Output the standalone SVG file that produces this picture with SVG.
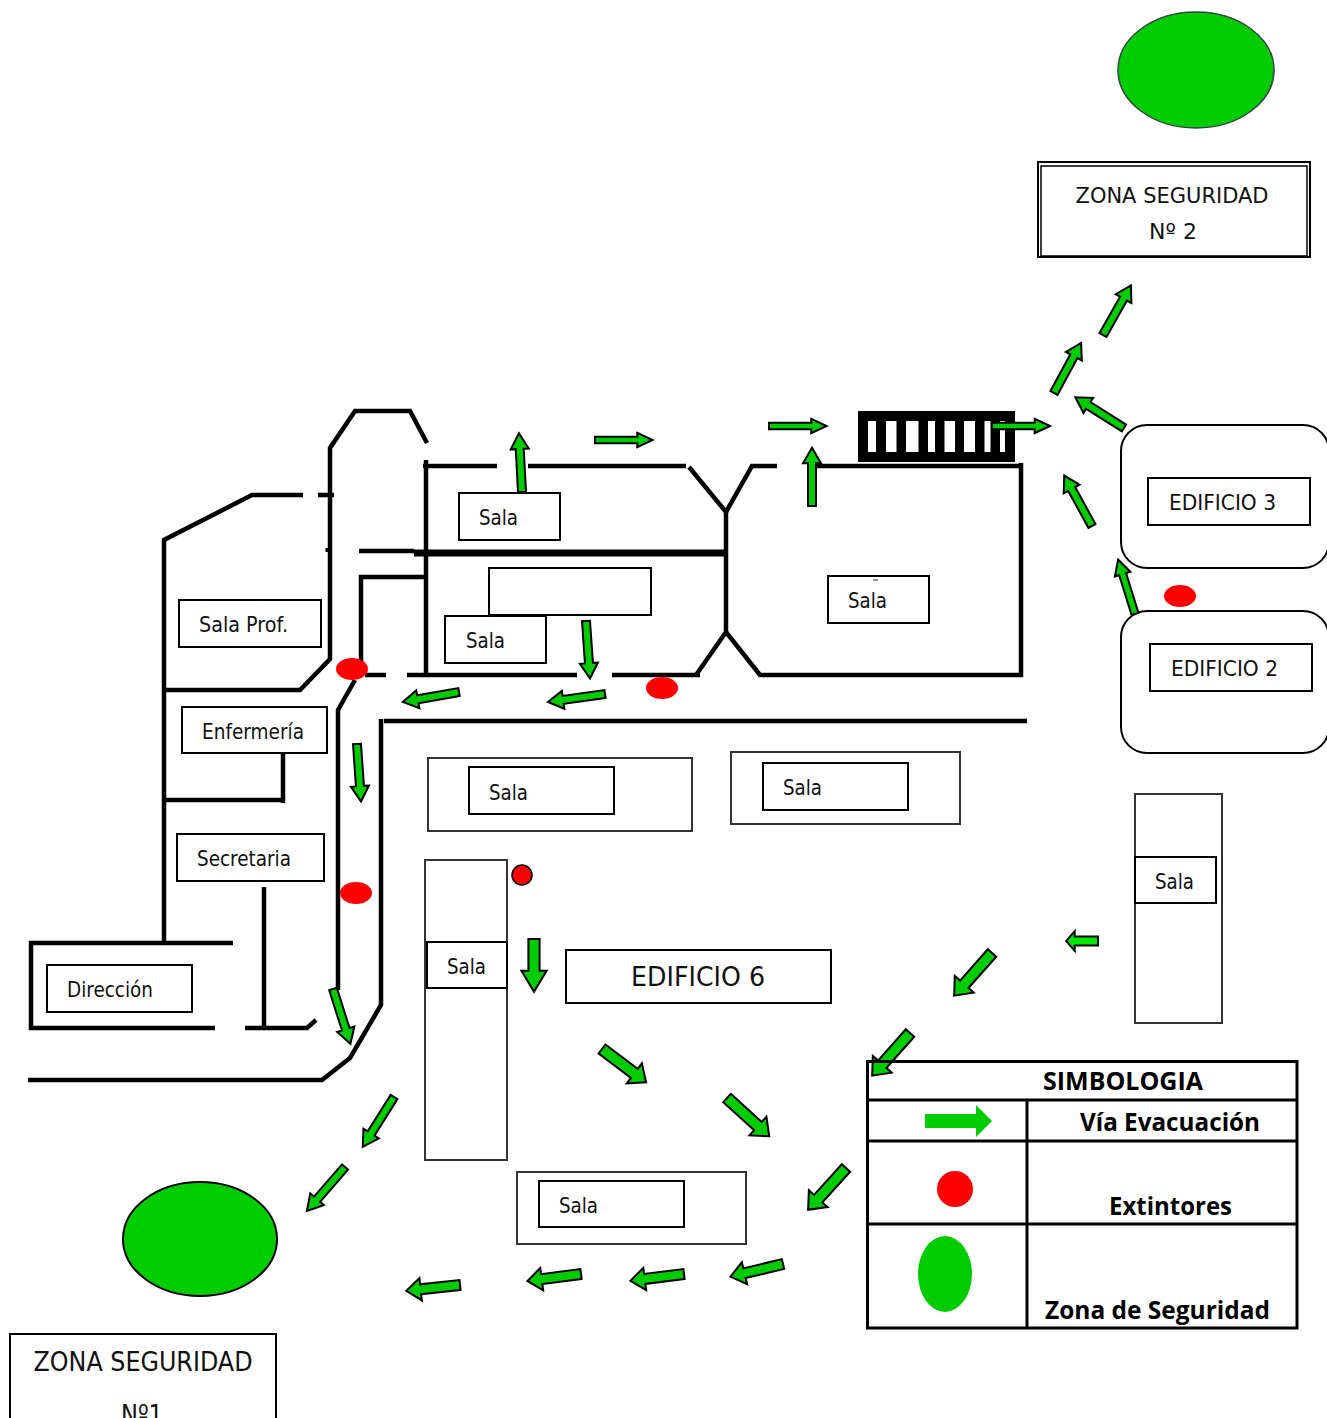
<svg xmlns="http://www.w3.org/2000/svg" width="1327" height="1418" viewBox="0 0 1327 1418">
<style>
text{font-family:"DejaVu Sans","Liberation Sans",sans-serif;fill:#111;font-size:22px}
text.big{font-size:26px}
.w{fill:none;stroke:#000;stroke-width:4.500}
.b{fill:#fff;stroke:#000;stroke-width:2}
.o{fill:#fff;stroke:#333;stroke-width:2}
.r{fill:#f00}
.g{fill:#00cc00}
.gs{fill:#00cc00;stroke:#000;stroke-width:2}
.a{fill:#00cc00;stroke:#000;stroke-width:2}
text.l{font-family:"Open Sans","Liberation Sans",sans-serif;font-weight:700;font-size:25px;fill:#000}
.tl{stroke:#000;stroke-width:3;fill:none}
</style>
<defs>
<polygon id="ar" points="0,-4 44,-4 44,-9 60,0 44,9 44,4 0,4" vector-effect="non-scaling-stroke"/>
<polygon id="ar2" points="0,-4 36,-4 36,-9 60,0 36,9 36,4 0,4" vector-effect="non-scaling-stroke"/>
</defs>
<rect width="1327" height="1418" fill="#fff"/>
<g id="walls" class="w">
<path d="M164 943V540L252 495H303M318 495H334"/>
<path d="M164 690H300L330 659V448L355 411H410L427 443"/>
<path d="M327 548V552" style="stroke-width:3"/>
<path d="M426 460V675"/>
<path d="M423 466H497M528 466H686"/>
<path d="M689 467L726 512L752 466H777M812 466H1021M1021 463V677M1023 675H760L726 632L696 675"/>
<path d="M726 512V632"/>
<path d="M359 551H414"/>
<path d="M414 553H726" style="stroke-width:7"/>
<path d="M361 675V577H426"/>
<path d="M365 675H386M407 675H577M612 675H700"/>
<path d="M355 680L338 710V990"/>
<path d="M1027 721H384M381 719V1005L350 1058L322 1080H28"/>
<path d="M233 943H31V1028H215M245 1028H307L316 1020"/>
<path d="M164 800H285M283 753V803"/>
<path d="M264 887V1028"/>
</g>
<g id="crossing">
<rect x="858" y="411" width="157" height="51" fill="#000"/>
<g fill="#fff"><rect x="868" y="421" width="8" height="31"/><rect x="886" y="421" width="10.500" height="31"/><rect x="906" y="421" width="12.500" height="31"/><rect x="928" y="421" width="7" height="31"/><rect x="944.500" y="421" width="10.500" height="31"/><rect x="964" y="421" width="11" height="31"/><rect x="984.500" y="421" width="6" height="31"/><rect x="1000" y="421" width="5" height="31"/></g>
</g>
<g id="zona2-ellipse"><ellipse cx="1196" cy="70" rx="78" ry="58" fill="#00cc00" stroke="#344" stroke-width="1.500"/></g>
<g id="zona2"><rect x="1038" y="162" width="272" height="95" fill="#fff" stroke="#000" stroke-width="2"/><rect x="1041" y="166" width="266" height="90" fill="none" stroke="#000" stroke-width="1.500"/>
<text x="1172" y="203" text-anchor="middle" textLength="193" lengthAdjust="spacingAndGlyphs">ZONA SEGURIDAD</text><text x="1173" y="239" text-anchor="middle">Nº 2</text></g>
<g id="edificio3"><rect class="b" x="1121" y="425" width="208" height="143" rx="26"/><rect class="b" x="1148" y="478" width="162" height="47"/><text x="1169" y="510" textLength="107" lengthAdjust="spacingAndGlyphs">EDIFICIO 3</text></g>
<g id="edificio2"><rect class="b" x="1121" y="611" width="208" height="142" rx="26"/><rect class="b" x="1150" y="644" width="162" height="47"/><text x="1171" y="676" textLength="107" lengthAdjust="spacingAndGlyphs">EDIFICIO 2</text></g>
<g id="sala-a"><rect class="b" x="459" y="493" width="101" height="47"/><text x="479" y="525" textLength="39" lengthAdjust="spacingAndGlyphs">Sala</text></g>
<g id="caja"><rect class="b" x="489" y="568" width="162" height="47"/></g>
<g id="sala-b"><rect class="b" x="445" y="616" width="101" height="47"/><text x="466" y="648" textLength="39" lengthAdjust="spacingAndGlyphs">Sala</text></g>
<g id="sala-c"><rect class="b" x="828" y="576" width="101" height="47"/><path d="M873 580H878" stroke="#333" stroke-width="1"/><text x="848" y="608" textLength="39" lengthAdjust="spacingAndGlyphs">Sala</text></g>
<g id="sala-prof"><rect class="b" x="179" y="600" width="142" height="47"/><text x="199" y="632" textLength="89" lengthAdjust="spacingAndGlyphs">Sala Prof.</text></g>
<g id="enfermeria"><rect class="b" x="182" y="707" width="145" height="46"/><text x="202" y="739" textLength="102" lengthAdjust="spacingAndGlyphs">Enfermería</text></g>
<g id="secretaria"><rect class="b" x="177" y="834" width="147" height="47"/><text x="197" y="866" textLength="94" lengthAdjust="spacingAndGlyphs">Secretaria</text></g>
<g id="direccion"><rect class="b" x="47" y="965" width="145" height="47"/><text x="67" y="997" textLength="86" lengthAdjust="spacingAndGlyphs">Dirección</text></g>
<g id="sala-d"><rect class="o" x="428" y="758" width="264" height="73"/><rect class="b" x="469" y="767" width="145" height="47"/><text x="489" y="800" textLength="39" lengthAdjust="spacingAndGlyphs">Sala</text></g>
<g id="sala-e"><rect class="o" x="731" y="752" width="229" height="72"/><rect class="b" x="763" y="763" width="145" height="47"/><text x="783" y="795" textLength="39" lengthAdjust="spacingAndGlyphs">Sala</text></g>
<g id="sala-f"><rect class="o" x="425" y="860" width="82" height="300"/><rect class="b" x="427" y="942" width="80" height="46"/><text x="447" y="974" textLength="39" lengthAdjust="spacingAndGlyphs">Sala</text></g>
<g id="sala-g"><rect class="o" x="517" y="1172" width="229" height="72"/><rect class="b" x="539" y="1181" width="145" height="46"/><text x="559" y="1213" textLength="39" lengthAdjust="spacingAndGlyphs">Sala</text></g>
<g id="sala-h"><rect class="o" x="1135" y="794" width="87" height="229"/><rect class="b" x="1135" y="857" width="81" height="46"/><text x="1155" y="889" textLength="39" lengthAdjust="spacingAndGlyphs">Sala</text></g>
<g id="edificio6"><rect class="b" x="566" y="950" width="265" height="53"/><text class="big" x="631" y="986" textLength="134" lengthAdjust="spacingAndGlyphs">EDIFICIO 6</text></g>
<g id="extintores">
<ellipse class="r" cx="352" cy="669" rx="16" ry="11"/>
<ellipse class="r" cx="662" cy="688" rx="16" ry="11"/>
<ellipse class="r" cx="356" cy="893" rx="16" ry="11"/>
<ellipse class="r" cx="1180" cy="596" rx="16" ry="11"/>
<circle cx="522" cy="875" r="10" fill="#f00" stroke="#000" stroke-width="1.500"/>
</g>
<g id="zona1-ellipse"><ellipse class="gs" cx="200" cy="1239" rx="77" ry="57"/></g>
<g id="zona1"><rect class="b" x="10" y="1334" width="266" height="100"/><text class="big" x="143" y="1371" text-anchor="middle" textLength="219" lengthAdjust="spacingAndGlyphs">ZONA SEGURIDAD</text><text class="big" x="142" y="1424" text-anchor="middle" textLength="42" lengthAdjust="spacingAndGlyphs">Nº1</text></g>
<g id="connectors" class="a">
<use href="#ar" transform="translate(1103,335) rotate(-60.600) scale(.95,1)"/>
<use href="#ar" transform="translate(1054,393) rotate(-61.600) scale(.95,1)"/>
<use href="#ar" transform="translate(1124,428) rotate(-147.700) scale(.96,1)"/>
<use href="#ar" transform="translate(1092,526) rotate(-118.800) scale(.96,1)"/>
<use href="#ar" transform="translate(992,426) scale(.97,.8)"/>
<use href="#ar" transform="translate(1135,614) rotate(-107.200) scale(.95,.9)"/>
<use href="#ar" transform="translate(522,492) rotate(-93) scale(.98,1)"/>
<use href="#ar" transform="translate(595,440) scale(.96,.8)"/>
<use href="#ar" transform="translate(769,426) scale(.96,.8)"/>
<use href="#ar" transform="translate(812,506) rotate(-90) scale(.97,1)"/>
<use href="#ar" transform="translate(586,621) rotate(86) scale(.96,1)"/>
<use href="#ar" transform="translate(605,694) rotate(172) scale(.96,1)"/>
<use href="#ar" transform="translate(459,692) rotate(170) scale(.95,1)"/>
<use href="#ar" transform="translate(357,744) rotate(86) scale(.96,1)"/>
<use href="#ar" transform="translate(333,989) rotate(72.400) scale(.96,1)"/>
<use href="#ar" transform="translate(394,1097) rotate(122.100) scale(.98,1)"/>
<use href="#ar" transform="translate(345,1167) rotate(130.900) scale(.97,1)"/>
<use href="#ar" transform="translate(460,1285) rotate(173.800) scale(.9,1.250)"/>
<use href="#ar" transform="translate(581,1274) rotate(172.600) scale(.9,1.250)"/>
<use href="#ar" transform="translate(684,1274) rotate(172.800) scale(.9,1.250)"/>
<use href="#ar" transform="translate(783,1264) rotate(166.500) scale(.9,1.250)"/>
<use href="#ar" transform="translate(846,1168) rotate(132.200) scale(.94,1.400)"/>
<use href="#ar" transform="translate(727,1098) rotate(42.200) scale(.95,1.400)"/>
<use href="#ar" transform="translate(602,1049) rotate(37) scale(.92,1.400)"/>
<use href="#ar2" transform="translate(534,939) rotate(90) scale(.88,1.400)"/>
<use href="#ar" style="fill:#00e600" transform="translate(1098,941) rotate(180) scale(.53,1.100)"/>
<use href="#ar" transform="translate(992,953) rotate(131.600) scale(.95,1.400)"/>
<use href="#ar" transform="translate(910,1033) rotate(131.600) scale(.95,1.400)"/>
</g>
<g id="simbologia">
<path class="tl" d="M867.500 1061.500H1297V1328H867.500ZM867.500 1100H1297M867.500 1141H1297M867.500 1224H1297M1027 1100V1328"/>
<polygon class="g" points="925,1114 976,1114 976,1105 992,1121 976,1137 976,1128 925,1128"/>
<circle class="r" cx="955" cy="1189" r="18"/>
<ellipse class="g" cx="945" cy="1274" rx="27" ry="38"/>
<text class="l" x="1043" y="1090" textLength="160" lengthAdjust="spacingAndGlyphs">SIMBOLOGIA</text>
<text class="l" x="1080" y="1131" textLength="180" lengthAdjust="spacingAndGlyphs">Vía Evacuación</text>
<text class="l" x="1109" y="1215" textLength="123" lengthAdjust="spacingAndGlyphs">Extintores</text>
<text class="l" x="1045" y="1319" textLength="225" lengthAdjust="spacingAndGlyphs">Zona de Seguridad</text>
</g>
</svg>
